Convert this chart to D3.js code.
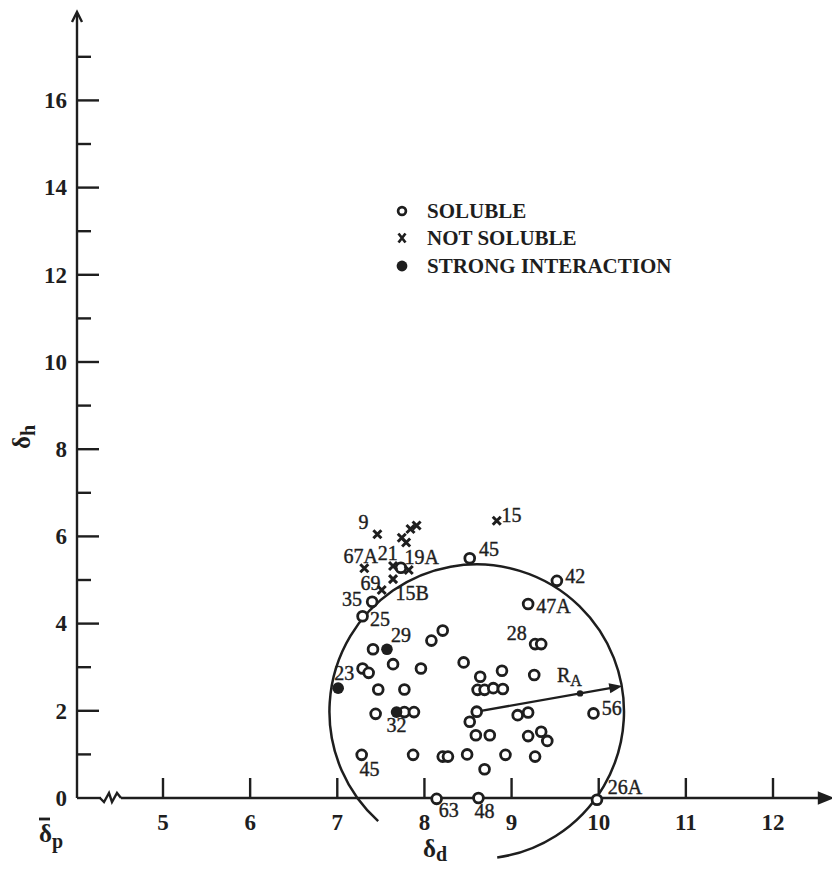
<!DOCTYPE html>
<html>
<head>
<meta charset="utf-8">
<script src="https://cdn.jsdelivr.net/npm/d3@7"></script>
<style>
body { margin: 0; background: #fff; }
svg text { font-family: "Liberation Serif", "DejaVu Serif", serif; fill: #1e1e1e; }
</style>
</head>
<body>
<svg id="chart" width="832" height="869"></svg>
<script>
// solubility data (delta d, delta h)
const solubleX = [7.29, 7.40, 7.41, 8.08, 8.21, 9.27, 9.34, 7.29, 7.36, 7.64, 7.96, 8.45, 8.64, 8.89, 9.26, 7.47, 7.77, 8.61, 8.69, 8.79, 8.90, 7.44, 7.77, 7.88, 8.60, 8.52, 9.07, 9.19, 9.94, 8.59, 8.75, 9.19, 9.34, 9.41, 7.28, 7.87, 8.21, 8.27, 8.49, 8.93, 9.27, 8.69, 8.14, 8.62, 9.98, 8.52, 9.52, 9.19, 7.73];
const solubleY = [4.17, 4.50, 3.41, 3.61, 3.84, 3.53, 3.53, 2.97, 2.87, 3.07, 2.97, 3.11, 2.78, 2.92, 2.82, 2.49, 2.49, 2.48, 2.48, 2.52, 2.50, 1.93, 1.97, 1.97, 1.98, 1.75, 1.90, 1.96, 1.94, 1.44, 1.44, 1.42, 1.52, 1.31, 0.99, 0.99, 0.95, 0.95, 1.00, 0.99, 0.95, 0.66, -0.02, 0.00, -0.04, 5.50, 4.98, 4.45, 5.28];

const notSolubleX = [7.46, 7.74, 7.79, 7.84, 7.91, 8.83, 7.31, 7.64, 7.82, 7.64, 7.51];
const notSolubleY = [6.05, 5.97, 5.86, 6.17, 6.25, 6.36, 5.27, 5.32, 5.23, 5.02, 4.77];

const strongX = [7.57, 7.01, 7.68];
const strongY = [3.41, 2.52, 1.97];

// point numbers, placed in data units
const labelText = ["9", "15", "67A", "21", "19A", "45", "69", "15B", "35", "25", "29", "42", "47A", "28", "23", "56", "32", "45", "63", "48", "26A"];
const labelX = [7.30, 9.00, 7.27, 7.58, 7.97, 8.74, 7.38, 7.86, 7.17, 7.49, 7.73, 9.73, 9.48, 9.06, 7.08, 10.15, 7.68, 7.37, 8.28, 8.69, 10.30];
const labelY = [6.33, 6.49, 5.55, 5.62, 5.52, 5.70, 4.92, 4.70, 4.55, 4.09, 3.73, 5.08, 4.40, 3.77, 2.86, 2.05, 1.66, 0.65, -0.29, -0.30, 0.24];

// solubility circle
const center = [8.60, 1.98];
const RA = 1.69;           // radius in delta d units
const arrowTip = [10.27, 2.57];
const gapDeg = [82, 132];  // open part of the circle at the bottom

const xTicks = [5, 6, 7, 8, 9, 10, 11, 12];
const yMajor = [2, 4, 6, 8, 10, 12, 14, 16];
const yMinor = [1, 3, 5, 7, 9, 11, 13, 15, 17];
const legendLabels = ["SOLUBLE", "NOT SOLUBLE", "STRONG INTERACTION"];

const ink = "#1e1e1e";
const svg = d3.select("#chart");

let x = d3.scaleLinear().domain([5, 12]).range([163, 773]);
let y = d3.scaleLinear().domain([0, 16]).range([798, 100.4]);
const axisX = 77;

// y axis
let g = svg.append("g").attr("stroke", ink).attr("stroke-width", 2.4).attr("fill", "none");
g.append("line").attr("x1", axisX).attr("x2", axisX).attr("y1", y(0)).attr("y2", 13);
g.append("path").attr("d", `M${axisX - 5},22L${axisX},12L${axisX + 5},22`);
g.selectAll(".maj").data(yMajor).enter().append("line")
    .attr("x1", axisX).attr("x2", axisX + 22)
    .attr("y1", d => y(d)).attr("y2", d => y(d));
g.selectAll(".min").data(yMinor).enter().append("line")
    .attr("x1", axisX).attr("x2", axisX + 14)
    .attr("y1", d => y(d)).attr("y2", d => y(d));

// x axis with break
g.append("line").attr("x1", axisX).attr("x2", 101).attr("y1", y(0)).attr("y2", y(0));
g.append("path").attr("d", `M100,${y(0)}L104,${y(0) + 4}L109,${y(0) - 5}L112,${y(0) + 4}L117,${y(0) - 5}L121,${y(0)}`);
g.append("line").attr("x1", 121).attr("x2", 828).attr("y1", y(0)).attr("y2", y(0));
g.append("path").attr("d", `M819,${y(0) - 5}L831,${y(0)}L819,${y(0) + 5}Z`).attr("fill", ink);
g.selectAll(".xt").data(xTicks).enter().append("line")
    .attr("x1", d => x(d)).attr("x2", d => x(d))
    .attr("y1", y(0)).attr("y2", y(0) - 20);

// tick labels
svg.append("g").selectAll("text").data(yMajor.concat([0])).enter().append("text")
    .attr("x", 67).attr("y", d => y(d)).attr("dy", "0.34em")
    .attr("text-anchor", "end").attr("font-weight", "bold").attr("font-size", 23)
    .text(d => d);
svg.append("g").selectAll("text").data(xTicks).enter().append("text")
    .attr("x", d => x(d)).attr("y", 822).attr("dy", "0.34em")
    .attr("text-anchor", "middle").attr("font-weight", "bold").attr("font-size", 23)
    .text(d => d);

// axis titles
let tx = svg.append("text").attr("x", 423).attr("y", 857)
    .attr("font-weight", "bold").attr("font-size", 25);
tx.append("tspan").text("δ");
tx.append("tspan").attr("dy", 4).attr("font-size", 20).text("d");

let tp = svg.append("text").attr("x", 39).attr("y", 842)
    .attr("font-weight", "bold").attr("font-size", 25);
tp.append("tspan").text("δ");
tp.append("tspan").attr("dy", 6).attr("font-size", 20).text("p");
svg.append("line").attr("x1", 39).attr("x2", 50).attr("y1", 819).attr("y2", 819)
    .attr("stroke", ink).attr("stroke-width", 2.8);

let th = svg.append("text").attr("transform", "translate(30,449) rotate(-90)")
    .attr("font-weight", "bold").attr("font-size", 25);
th.append("tspan").text("δ");
th.append("tspan").attr("dy", 5).attr("font-size", 20).text("h");

// circle of solubility, open at the bottom
const cx = x(center[0]), cy = y(center[1]);
const r = x(center[0] + RA) - cx;
const a0 = gapDeg[1] * Math.PI / 180, a1 = (gapDeg[0] + 360) * Math.PI / 180;
const arc = d3.path();
arc.moveTo(cx + r * Math.cos(a0), cy + r * Math.sin(a0));
arc.arc(cx, cy, r, a0, a1);
svg.append("path").attr("d", arc.toString())
    .attr("fill", "none").attr("stroke", ink).attr("stroke-width", 2.5);

// radius arrow R_A
const tipX = x(arrowTip[0]), tipY = y(arrowTip[1]);
const ang = Math.atan2(tipY - cy, tipX - cx);
svg.append("line").attr("x1", cx).attr("y1", cy)
    .attr("x2", tipX - 8 * Math.cos(ang)).attr("y2", tipY - 8 * Math.sin(ang))
    .attr("stroke", ink).attr("stroke-width", 2.3);
svg.append("path")
    .attr("d", "M0,0L-13,-5L-13,5Z")
    .attr("transform", `translate(${tipX},${tipY}) rotate(${ang * 180 / Math.PI})`)
    .attr("fill", ink);
svg.append("circle")
    .attr("cx", cx + 0.71 * (tipX - cx)).attr("cy", cy + 0.71 * (tipY - cy))
    .attr("r", 3.2).attr("fill", ink);
let ra = svg.append("text").attr("x", 557).attr("y", 682).attr("font-size", 20)
    .attr("stroke", ink).attr("stroke-width", 0.4);
ra.append("tspan").text("R");
ra.append("tspan").attr("dy", 4).attr("font-size", 16).text("A");

// soluble points
svg.append("g").selectAll("circle").data(d3.range(solubleX.length)).enter().append("circle")
    .attr("cx", i => x(solubleX[i])).attr("cy", i => y(solubleY[i]))
    .attr("r", 4.9).attr("fill", "#fff").attr("stroke", ink).attr("stroke-width", 2.8);

// strong interaction
svg.append("g").selectAll("circle").data(d3.range(strongX.length)).enter().append("circle")
    .attr("cx", i => x(strongX[i])).attr("cy", i => y(strongY[i]))
    .attr("r", 5.8).attr("fill", ink);

// not soluble
const xMark = "M-4,-4L4,4M4,-4L-4,4";
svg.append("g").selectAll("path").data(d3.range(notSolubleX.length)).enter().append("path")
    .attr("d", xMark)
    .attr("transform", i => `translate(${x(notSolubleX[i])},${y(notSolubleY[i])})`)
    .attr("stroke", ink).attr("stroke-width", 3).attr("fill", "none");

// point numbers
svg.append("g").selectAll("text").data(d3.range(labelText.length)).enter().append("text")
    .attr("x", i => x(labelX[i])).attr("y", i => y(labelY[i])).attr("dy", "0.34em")
    .attr("text-anchor", "middle").attr("font-size", 20)
    .attr("stroke", ink).attr("stroke-width", 0.4)
    .text(i => labelText[i]);

// legend
const legY = [211, 238, 266];
let leg = svg.append("g");
leg.append("circle").attr("cx", 402).attr("cy", legY[0]).attr("r", 3.9)
    .attr("fill", "none").attr("stroke", ink).attr("stroke-width", 2.7);
leg.append("path").attr("d", "M-3.5,-4.5L3.5,4.5M3.5,-4.5L-3.5,4.5")
    .attr("transform", `translate(402,${legY[1]})`)
    .attr("stroke", ink).attr("stroke-width", 2.7);
leg.append("circle").attr("cx", 402).attr("cy", legY[2]).attr("r", 5.4).attr("fill", ink);
leg.selectAll("text").data(legendLabels).enter().append("text")
    .attr("x", 427).attr("y", (d, i) => legY[i]).attr("dy", "0.34em")
    .attr("font-weight", "bold").attr("font-size", 21)
    .text(d => d);
</script>
</body>
</html>
